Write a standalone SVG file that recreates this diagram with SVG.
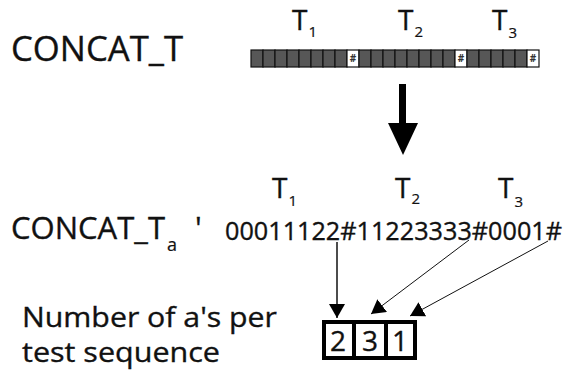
<svg xmlns="http://www.w3.org/2000/svg" width="564" height="376" viewBox="0 0 564 376">
  <style>
    text { font-family: "Open Sans", "Noto Sans", "Liberation Sans", sans-serif; fill: #111; stroke: #111; stroke-width: 0.35; }
    .big { font-size: 34px; }
    .lab { font-size: 28px; }
    .sub { font-size: 15px; stroke-width: 0.2; }
    .seq { font-size: 25px; }
    .cell { fill: #575757; stroke: #111; stroke-width: 1.2; }
    .sep { fill: #ffffff; stroke: #111; stroke-width: 1.2; }
    .hash { font-size: 10px; font-weight: bold; fill: #333; stroke: none; text-anchor: middle; }
    .conn { stroke: #111; fill: none; }
    .cnt { fill: #fff; stroke: #000; stroke-width: 4; }
    .digit { font-size: 28px; text-anchor: middle; }
  </style>
  <defs>
    <marker id="tri" viewBox="0 0 14 16" refX="14" refY="8" markerWidth="14" markerHeight="16" markerUnits="userSpaceOnUse" orient="auto">
      <path d="M0,0 L14,8 L0,16 Z" fill="#000"/>
    </marker>
    <rect id="c" class="cell" width="12" height="17"/>
    <rect id="h" class="sep" width="12" height="17"/>
  </defs>

  <!-- concatenated test sequences as a cell strip -->
  <g id="concat-t">
    <text class="big" x="11" y="61" textLength="172" lengthAdjust="spacingAndGlyphs">CONCAT_T</text>
    <g id="strip">
      <use href="#c" x="251" y="50"/><use href="#c" x="263" y="50"/><use href="#c" x="275" y="50"/><use href="#c" x="287" y="50"/>
      <use href="#c" x="299" y="50"/><use href="#c" x="311" y="50"/><use href="#c" x="323" y="50"/><use href="#c" x="335" y="50"/>
      <use href="#h" x="347" y="50"/>
      <use href="#c" x="359" y="50"/><use href="#c" x="371" y="50"/><use href="#c" x="383" y="50"/><use href="#c" x="395" y="50"/>
      <use href="#c" x="407" y="50"/><use href="#c" x="419" y="50"/><use href="#c" x="431" y="50"/><use href="#c" x="443" y="50"/>
      <use href="#h" x="455" y="50"/>
      <use href="#c" x="467" y="50"/><use href="#c" x="479" y="50"/><use href="#c" x="491" y="50"/><use href="#c" x="503" y="50"/>
      <use href="#c" x="515" y="50"/>
      <use href="#h" x="527" y="50"/>
      <text class="hash" x="353" y="62">#</text>
      <text class="hash" x="461" y="62">#</text>
      <text class="hash" x="533" y="62">#</text>
    </g>
    <text class="lab" x="292" y="30">T<tspan class="sub" dx="1" dy="7">1</tspan></text>
    <text class="lab" x="398" y="30">T<tspan class="sub" dx="1" dy="7">2</tspan></text>
    <text class="lab" x="492" y="30">T<tspan class="sub" dx="1" dy="8">3</tspan></text>
  </g>

  <!-- transformation arrow -->
  <g id="transform-arrow">
    <rect x="399" y="84" width="7" height="41" fill="#000"/>
    <path d="M388,123 L418,123 L403,155 Z" fill="#000"/>
  </g>

  <!-- symbol-encoded concatenation -->
  <g id="concat-ta">
    <text class="big" style="font-size:30.5px" x="11" y="239" textLength="154" lengthAdjust="spacingAndGlyphs">CONCAT_T</text>
    <text class="sub" style="font-size:18px" x="167" y="251">a</text>
    <text class="big" style="font-size:30.5px" x="195" y="239">'</text>
    <text class="seq" x="225" y="240" textLength="337" lengthAdjust="spacingAndGlyphs">00011122#11223333#0001#</text>
    <text class="lab" x="272" y="198">T<tspan class="sub" dx="1" dy="8">1</tspan></text>
    <text class="lab" x="395" y="198">T<tspan class="sub" dx="1" dy="6">2</tspan></text>
    <text class="lab" x="498" y="198">T<tspan class="sub" dx="1" dy="9">3</tspan></text>
  </g>

  <!-- connectors -->
  <g id="connectors">
    <line class="conn" stroke-width="1.5" x1="337" y1="242" x2="337" y2="318" marker-end="url(#tri)"/>
    <line class="conn" stroke-width="1" x1="469" y1="240" x2="371" y2="314" marker-end="url(#tri)"/>
    <line class="conn" stroke-width="1" x1="548" y1="241" x2="410" y2="316" marker-end="url(#tri)"/>
  </g>

  <!-- per-sequence counts -->
  <g id="counts">
    <rect class="cnt" x="324" y="322" width="30" height="36"/>
    <rect class="cnt" x="354" y="322" width="32" height="36"/>
    <rect class="cnt" x="386" y="322" width="29" height="36"/>
    <text class="digit" x="338" y="351">2</text>
    <text class="digit" x="370" y="351">3</text>
    <text class="digit" x="400" y="351">1</text>
  </g>

  <g id="caption">
    <text class="lab" x="22" y="327" textLength="255" lengthAdjust="spacingAndGlyphs">Number of a's per</text>
    <text class="lab" x="22" y="362" textLength="198" lengthAdjust="spacingAndGlyphs">test sequence</text>
  </g>
</svg>
